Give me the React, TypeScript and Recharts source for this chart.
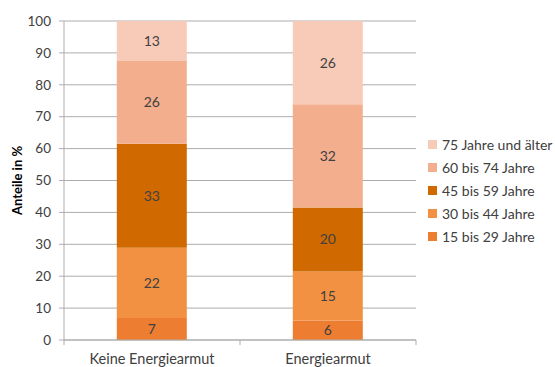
import React from 'react';
import { BarChart, Bar, XAxis, YAxis, CartesianGrid, LabelList } from 'recharts';

const categories = ['Keine Energiearmut', 'Energiearmut'];
const age15to29 = [6.9, 6.1];
const age30to44 = [22.0, 15.4];
const age45to59 = [32.6, 20.0];
const age60to74 = [26.0, 32.4];
const age75plus = [12.5, 26.1];
const yTicks = [0, 10, 20, 30, 40, 50, 60, 70, 80, 90, 100];

const SERIES = [
  { key: 'a15', name: '15 bis 29 Jahre', color: '#ED7D31', values: age15to29 },
  { key: 'a30', name: '30 bis 44 Jahre', color: '#F39143', values: age30to44 },
  { key: 'a45', name: '45 bis 59 Jahre', color: '#D06A00', values: age45to59 },
  { key: 'a60', name: '60 bis 74 Jahre', color: '#F3AE8E', values: age60to74 },
  { key: 'a75', name: '75 Jahre und älter', color: '#F8CBB9', values: age75plus },
];

const data = categories.map((name, i) => {
  const row: { [k: string]: string | number } = { name };
  SERIES.forEach((s) => {
    row[s.key] = s.values[i];
  });
  return row;
});

const FONT = 'Lato, "Liberation Sans", sans-serif';
const TEXT = '#404040';
const GRID = '#ADADAD';

const CategoryTick = (props: any) => {
  const { x, y, payload, index } = props;
  const half = 88;
  return (
    <g>
      <line x1={x - half} y1={y - 8} x2={x - half} y2={y - 3} stroke={GRID} />
      {index === categories.length - 1 && (
        <line x1={x + half} y1={y - 8} x2={x + half} y2={y - 3} stroke={GRID} />
      )}
      <text x={x} y={y + 16} textAnchor="middle" fontSize={14.5} fill={TEXT} fontFamily={FONT}>
        {payload.value}
      </text>
    </g>
  );
};

export default function App() {
  return (
    <div style={{ position: 'absolute', left: 0, top: 0, width: 555, height: 367, background: '#fff' }}>
      <BarChart
        width={555}
        height={367}
        data={data}
        margin={{ top: 21, right: 139, bottom: 0, left: 0 }}
        barCategoryGap="30%"
      >
        <CartesianGrid vertical={false} stroke={GRID} strokeWidth={1} />
        <XAxis
          dataKey="name"
          height={27}
          stroke={GRID}
          tickLine={false}
          tick={<CategoryTick />}
          interval={0}
        />
        <YAxis
          width={64}
          domain={[0, 100]}
          ticks={yTicks}
          allowDataOverflow
          stroke={GRID}
          tickSize={5}
          tickMargin={8}
          tick={{ fill: TEXT, fontSize: 13.5, fontFamily: FONT }}
          label={{
            value: 'Anteile in %',
            angle: -90,
            position: 'insideLeft',
            offset: 17,
            style: { textAnchor: 'middle', fill: '#000', fontSize: 13, fontWeight: 'bold', fontFamily: FONT },
          }}
        />
        {SERIES.map((s) => (
          <Bar key={s.key} dataKey={s.key} name={s.name} stackId="a" fill={s.color} isAnimationActive={false}>
            <LabelList
              dataKey={s.key}
              position="center"
              formatter={(v: any) => Math.round(Number(v))}
              style={{ fill: TEXT, fontSize: 14, fontFamily: FONT }}
            />
          </Bar>
        ))}
      </BarChart>
      <div style={{ position: 'absolute', left: 428, top: 133, fontFamily: FONT, fontSize: 14, color: TEXT }}>
        {[...SERIES].reverse().map((s) => (
          <div key={s.key} style={{ display: 'flex', alignItems: 'center', height: 23 }}>
            <span style={{ width: 9, height: 9, background: s.color, marginRight: 5, display: 'inline-block' }} />
            <span>{s.name}</span>
          </div>
        ))}
      </div>
    </div>
  );
}
